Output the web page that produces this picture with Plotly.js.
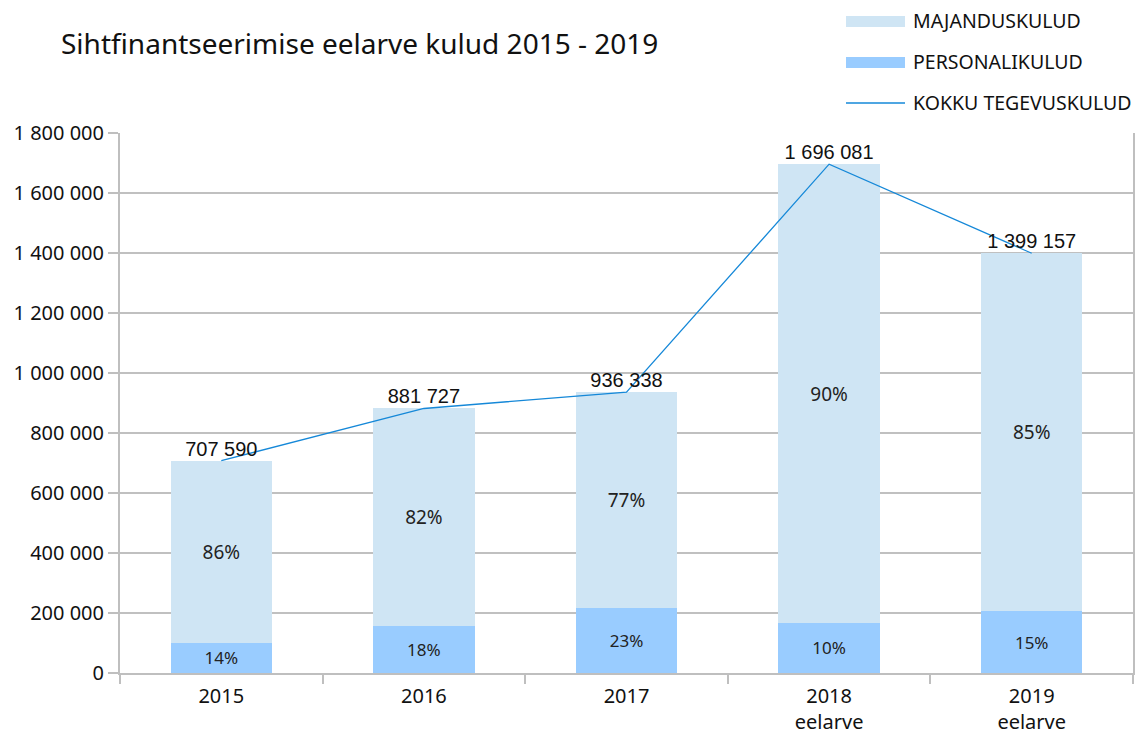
<!DOCTYPE html>
<html>
<head>
<meta charset="utf-8">
<script src="https://cdn.plot.ly/plotly-3.0.1.min.js"></script>
<style>html,body{margin:0;padding:0;background:#fff;}#chart{width:1141px;height:735px;}</style>
</head>
<body>
<div id="chart"></div>
<script>
// ---- data ----
var categories = ["2015", "2016", "2017", "2018<br>eelarve", "2019<br>eelarve"];
var personalikulud = [101000, 157000, 216000, 167000, 206000];
var majanduskulud = [606590, 724727, 720338, 1529081, 1193157];
var kokku = [707590, 881727, 936338, 1696081, 1399157];
var kokkuLabels = ["707 590", "881 727", "936 338", "1 696 081", "1 399 157"];
var personalPct = ["14%", "18%", "23%", "10%", "15%"];
var majandusPct = ["86%", "82%", "77%", "90%", "85%"];
var seriesNames = ["MAJANDUSKULUD", "PERSONALIKULUD", "KOKKU TEGEVUSKULUD"];

var colMaj = "#cfe5f4", colPers = "#99ccff", colLine = "#1588d8";
var W = 1141, H = 735, L = 120, R = 8, T = 133, B = 62;
function px(x){ return (x - L) / (W - L - R); }
function py(y){ return (H - B - y) / (H - T - B); }

var traces = [
  {type: "bar", name: seriesNames[1], x: categories, y: personalikulud,
   marker: {color: colPers}, text: personalPct, textposition: "inside",
   insidetextanchor: "middle", constraintext: "none",
   textfont: {family: "Noto Sans", size: 17, color: "#222"}, hoverinfo: "y", showlegend: false},
  {type: "bar", name: seriesNames[0], x: categories, y: majanduskulud,
   marker: {color: colMaj}, text: majandusPct, textposition: "inside",
   insidetextanchor: "middle", constraintext: "none",
   textfont: {family: "Noto Sans", size: 19, color: "#222"}, hoverinfo: "y", showlegend: false},
  {type: "scatter", mode: "lines+text", name: seriesNames[2], x: categories, y: kokku,
   line: {color: colLine, width: 1.3}, text: kokkuLabels, textposition: "top center",
   textfont: {family: "Liberation Sans", size: 20, color: "#111"}, cliponaxis: false, showlegend: false}
];

var shapes = [
  {type: "rect", xref: "paper", yref: "paper", x0: px(846), x1: px(905), y0: py(27), y1: py(16), fillcolor: colMaj, line: {width: 0}},
  {type: "rect", xref: "paper", yref: "paper", x0: px(846), x1: px(905), y0: py(68), y1: py(57), fillcolor: colPers, line: {width: 0}},
  {type: "line", xref: "paper", yref: "paper", x0: px(846), x1: px(905), y0: py(103), y1: py(103), line: {color: colLine, width: 1.3}}
];
var legY = [21, 62, 103];
var annotations = seriesNames.map(function(n, i){
  return {xref: "paper", yref: "paper", x: px(911), y: py(legY[i]), xanchor: "left", yanchor: "middle",
          text: n, showarrow: false, font: {family: "Noto Sans", size: 19.5, color: "#111"}};
});

var layout = {
  width: W, height: H,
  margin: {l: L, r: R, t: T, b: B},
  paper_bgcolor: "#fff", plot_bgcolor: "#fff",
  title: {text: "Sihtfinantseerimise eelarve kulud 2015 - 2019", x: 61 / W, xanchor: "left",
          y: 1 - 44 / H, yanchor: "middle", font: {family: "Noto Sans", size: 28, color: "#111"}},
  barmode: "stack", bargap: 0.5,
  separators: ". ",
  showlegend: false,
  xaxis: {type: "category", tickson: "boundaries", ticks: "outside", ticklen: 9, tickwidth: 2, tickcolor: "#bfbfbf",
          showline: true, linecolor: "#bfbfbf", linewidth: 2, showgrid: false, ticklabelstandoff: 4,
          tickfont: {family: "Noto Sans", size: 20, color: "#111"}, fixedrange: true},
  yaxis: {range: [0, 1800000], dtick: 200000, tick0: 0, tickformat: ",d",
          ticks: "outside", ticklen: 10, tickwidth: 2, tickcolor: "#bfbfbf",
          showline: true, mirror: true, linecolor: "#bfbfbf", linewidth: 2,
          showgrid: true, gridcolor: "#c0c0c0", gridwidth: 2, zeroline: false,
          tickfont: {family: "Noto Sans", size: 20, color: "#111"}, fixedrange: true},
  shapes: shapes, annotations: annotations
};

Plotly.newPlot("chart", traces, layout, {displayModeBar: false, staticPlot: true});
</script>
</body>
</html>
